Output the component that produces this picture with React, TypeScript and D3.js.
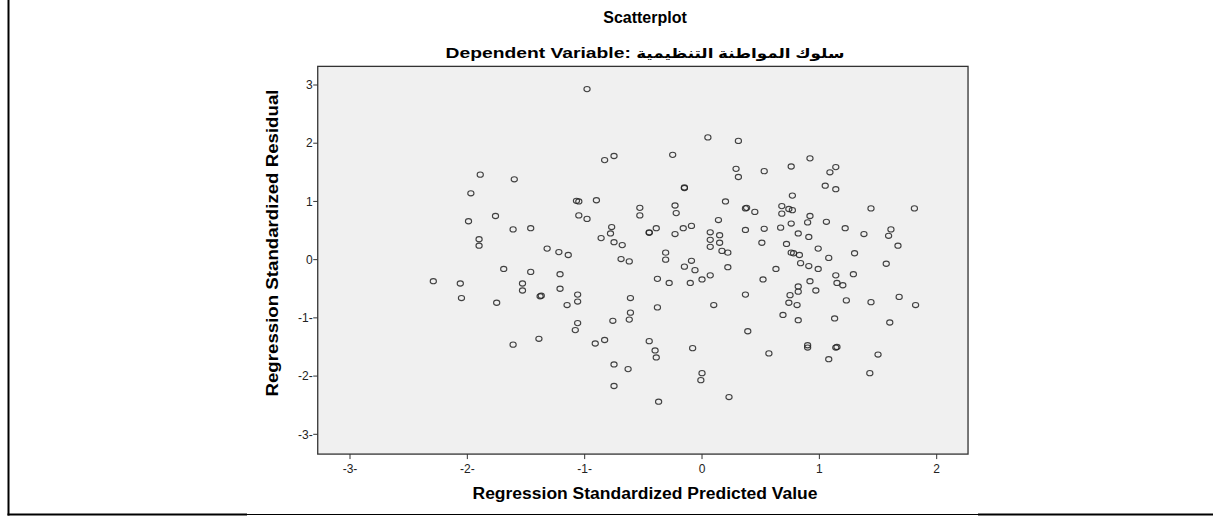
import React from "react";
import * as d3 from "d3";

// values (SPSS residual plot)
const predicted = [
  -1.89, -1.6, -1.97, -1.99, -1.76, -1.61, -1.9, -1.9, -1.69, -2.29, -2.06, -2.05, -1.75, -1.53, -1.53, -1.61,
  -0.98, 0.05, -0.83, -0.75, -0.25, -0.15, -0.15, -1.07, -1.05, -0.9, 0.2, -0.53, -0.53, -0.23, -0.22, -1.05,
  -0.98, -1.46, -0.77, -0.78, -0.86, -0.75, -0.68, -0.45, -0.45, -0.39, -0.23, -0.16, -0.09, 0.14, 0.07, 0.15,
  0.07, 0.15, 0.07, 0.17, 0.22, -1.32, -1.22, -1.14, -0.31, -0.69, -0.62, -0.31, -0.09,
  -0.15, -0.06, 0.22, -1.46, -1.21, -1.21, -1.38, -1.37, -1.15, -1.06, -1.06, -0.38, -0.28, -0.1, 0.0, 0.07,
  -0.61, -0.38, 0.1, -0.61, -0.62, -0.76, -1.06, -1.08, -1.39, -0.91, -0.83, -0.45, -0.4, -0.39, -0.08, -0.75,
  -0.63, 0.0, -0.01, -0.75, 0.23, -0.37,
  0.31, 0.92, 0.29, 0.31, 0.53, 0.76, 1.09, 1.14, 1.05, 1.14, 0.77, 0.37, 0.38, 0.45, 0.68, 0.68, 0.74, 0.77,
  1.44, 1.81, 0.92, 0.9, 0.76, 1.06, 0.37, 0.53, 0.67, 1.22, 0.82, 0.91, 1.38, 1.61, 1.59, 1.67, 0.51, 0.72,
  0.99, 0.76, 0.78, 0.83, 1.08, 1.3,
  0.63, 0.52, 0.84, 0.91, 0.99, 1.57, 0.92, 1.14, 1.29, 1.15, 1.2, 0.82, 0.82, 0.97, 0.75, 0.74, 0.81, 0.37,
  1.23, 1.44, 1.68, 1.82, 0.69, 0.82, 1.13, 1.6, 0.39, 0.9, 0.9, 1.14, 1.15, 0.57, 1.08, 1.5, 1.43,
];

const residual = [
  1.46, 1.38, 1.14, 0.66, 0.75, 0.52, 0.35, 0.24, -0.16, -0.37, -0.41, -0.66, -0.74, -0.41, -0.53, -1.46,
  2.93, 2.1, 1.71, 1.78, 1.8, 1.24, 1.23, 1.01, 1.0, 1.02, 1.0, 0.89, 0.76, 0.93, 0.8, 0.76,
  0.7, 0.54, 0.56, 0.45, 0.37, 0.3, 0.25, 0.46, 0.47, 0.54, 0.44, 0.54, 0.58, 0.68, 0.47, 0.42,
  0.34, 0.29, 0.22, 0.15, 0.12, 0.19, 0.13, 0.08, 0.12, 0.01, -0.03, 0.0, -0.02,
  -0.12, -0.18, -0.13, -0.21, -0.25, -0.5, -0.63, -0.62, -0.78, -0.6, -0.72, -0.33, -0.4, -0.4, -0.34, -0.27,
  -0.66, -0.82, -0.78, -0.91, -1.03, -1.05, -1.09, -1.21, -1.36, -1.44, -1.38, -1.4, -1.56, -1.68, -1.52, -1.8,
  -1.88, -1.95, -2.07, -2.17, -2.36, -2.44,
  2.04, 1.74, 1.56, 1.42, 1.52, 1.6, 1.5, 1.59, 1.27, 1.21, 1.1, 0.88, 0.89, 0.82, 0.92, 0.79, 0.87, 0.85,
  0.88, 0.88, 0.75, 0.64, 0.62, 0.65, 0.51, 0.53, 0.55, 0.54, 0.45, 0.39, 0.44, 0.52, 0.41, 0.24, 0.29, 0.27,
  0.19, 0.12, 0.11, 0.08, 0.03, 0.11,
  -0.16, -0.34, -0.06, -0.11, -0.16, -0.07, -0.37, -0.27, -0.25, -0.4, -0.44, -0.46, -0.55, -0.53, -0.61, -0.74,
  -0.78, -0.6, -0.7, -0.73, -0.64, -0.78, -0.95, -1.04, -1.01, -1.08, -1.23, -1.47, -1.51, -1.51, -1.5, -1.61,
  -1.71, -1.63, -1.95,
];

const xTicks = [-3, -2, -1, 0, 1, 2];
const yTicks = [-3, -2, -1, 0, 1, 2, 3];

const title = "Scatterplot";
const subtitleLabel = "Dependent Variable: ";
const subtitleName = "سلوك المواطنة التنظيمية";
const xTitle = "Regression Standardized Predicted Value";
const yTitle = "Regression Standardized Residual";

const W = 1213;
const H = 517;
const font = "'Liberation Sans', Arial, 'DejaVu Sans', sans-serif";

export default function App() {
  const x = d3.scaleLinear().domain([-3, 2]).range([350, 936.7]);
  const y = d3.scaleLinear().domain([-3, 3]).range([434.3, 85]);

  // plot frame edges (in data units, from the reference)
  const left = x(-3.275);
  const right = x(2.267);
  const top = y(3.32);
  const bottom = y(-3.34);

  const fmt = (v: number) => (v < 0 ? `-${Math.abs(v)}-` : `${v}`);
  const points = predicted.map((p, i) => ({ p, r: residual[i] }));

  return (
    <svg
      width={W}
      height={H}
      style={{ position: "absolute", left: 0, top: 0, background: "#fff" }}
      fontFamily={font}
    >
      {/* page border bits */}
      <line x1={8.5} x2={8.5} y1={0} y2={515.5} stroke="#000" strokeWidth={2} />
      <line x1={7.5} x2={247} y1={514.5} y2={514.5} stroke="#000" strokeWidth={2} />
      <line x1={247} x2={978} y1={514.5} y2={514.5} stroke="#000" strokeWidth={1} />
      <line x1={978} x2={W} y1={514.5} y2={514.5} stroke="#000" strokeWidth={2} />

      <text x={645} y={23} textAnchor="middle" fontSize={16} fontWeight="bold">
        {title}
      </text>
      <text
        x={645}
        y={58}
        textAnchor="middle"
        fontSize={15.5}
        fontWeight="bold"
        textLength={399}
        lengthAdjust="spacingAndGlyphs"
      >
        {subtitleLabel}
        <tspan fontSize={13.5}>{subtitleName}</tspan>
      </text>

      <rect
        x={left}
        y={top}
        width={right - left}
        height={bottom - top}
        fill="#f0f0f0"
        stroke="#333"
        strokeWidth={1.3}
      />

      {yTicks.map((t) => (
        <g key={"y" + t}>
          <line x1={left - 4.5} x2={left} y1={y(t)} y2={y(t)} stroke="#333" strokeWidth={1} />
          <text
            x={left - 5}
            y={y(t)}
            dy="0.35em"
            textAnchor="end"
            fontSize={12}
            fill="#222"
          >
            {fmt(t)}
          </text>
        </g>
      ))}

      {xTicks.map((t) => (
        <g key={"x" + t}>
          <line x1={x(t)} x2={x(t)} y1={bottom} y2={bottom + 5} stroke="#333" strokeWidth={1} />
          <text x={x(t)} y={473} textAnchor="middle" fontSize={12} fill="#222">
            {fmt(t)}
          </text>
        </g>
      ))}

      {points.map((d, i) => (
        <ellipse
          key={i}
          cx={x(d.p)}
          cy={y(d.r)}
          rx={3.1}
          ry={2.6}
          fill="none"
          stroke="#222"
          strokeOpacity={0.85}
          strokeWidth={1.1}
        />
      ))}

      <text
        x={645}
        y={499}
        textAnchor="middle"
        fontSize={16}
        fontWeight="bold"
        textLength={345}
        lengthAdjust="spacingAndGlyphs"
      >
        {xTitle}
      </text>
      <text
        transform={`translate(278,243) rotate(-90)`}
        textAnchor="middle"
        fontSize={16}
        fontWeight="bold"
        textLength={307}
        lengthAdjust="spacingAndGlyphs"
      >
        {yTitle}
      </text>
    </svg>
  );
}
